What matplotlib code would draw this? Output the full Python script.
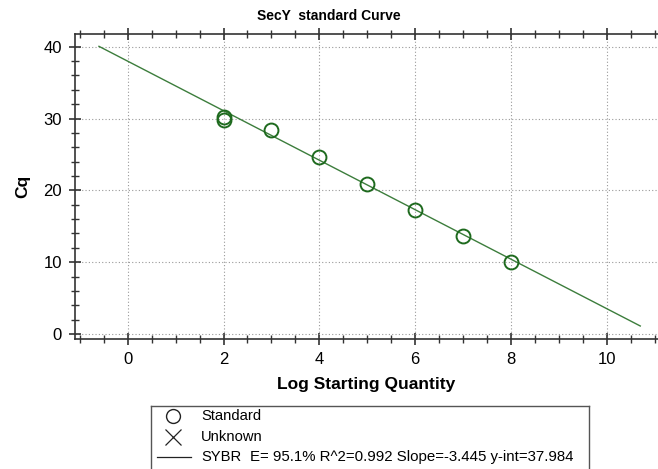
import matplotlib.pyplot as plt
from matplotlib.ticker import MultipleLocator
import numpy as np

plt.rcParams['font.family'] = ['Liberation Sans', 'DejaVu Sans']

# standard points (log starting quantity, Cq)
log_qty = [2, 2, 3, 4, 5, 6, 7, 8]
cq = [29.8, 30.2, 28.4, 24.6, 20.9, 17.3, 13.6, 10.1]

# fit reported by the instrument
slope = -3.445
y_int = 37.984
fit_x = [-0.6, 10.7]
fit_label = "E= 95.1% R^2=0.992 Slope=-3.445 y-int=37.984"

fig = plt.figure(figsize=(6.58, 4.69), dpi=100)
ax = fig.add_axes([0.114, 0.277, 0.886, 0.651])

fx = np.array(fit_x)
ax.plot(fx, slope * fx + y_int, color='#3c7d3c', lw=1.0)
ax.plot(log_qty, cq, 'o', mfc='none', mec='#1e6a1e', mew=1.4, ms=10)

ax.set_xlim(-1.1, 11.07)
ax.set_ylim(-0.7, 41.8)
ax.xaxis.set_major_locator(MultipleLocator(2))
ax.xaxis.set_minor_locator(MultipleLocator(0.5))
ax.yaxis.set_major_locator(MultipleLocator(10))
ax.yaxis.set_minor_locator(MultipleLocator(2))

ax.grid(True, which='major', color='#999999', ls=(0, (1, 2)), lw=0.8)
ax.spines['right'].set_visible(False)
for s in ['left', 'bottom', 'top']:
    ax.spines[s].set_color('#333333')
    ax.spines[s].set_linewidth(1.2)

ax.tick_params(which='major', direction='inout', length=9, width=1.2,
               labelsize=12, color='#333333', top=True, pad=5)
ax.tick_params(which='minor', direction='inout', length=6, width=1.0,
               color='#333333', top=True)
ax.tick_params(axis='x', which='both', labeltop=False)

ax.set_xlabel('Log Starting Quantity', fontsize=12.5, fontweight='bold', labelpad=7)
ax.set_ylabel('Cq', fontsize=12.5, fontweight='bold', labelpad=9)
fig.text(0.5, 0.966, 'SecY  standard Curve', ha='center', va='center',
         fontsize=10, fontweight='bold')

# legend box
lg = fig.add_axes([151 / 658, -0.02, (589 - 151) / 658, (469 - 406) / 469 + 0.02])
lg.set_xlim(151, 589)
lg.set_ylim(478, 406)
lg.set_xticks([])
lg.set_yticks([])
for s in lg.spines.values():
    s.set_color('#555555')
    s.set_linewidth(1.0)
lg.plot([173], [416], 'o', mfc='none', mec='#222222', mew=1.0, ms=10)
lg.plot([173], [437], 'x', color='#222222', mew=0.9, ms=11)
lg.plot([157, 191], [457, 457], color='#222222', lw=0.9)
lg.text(201, 416, 'Standard', va='center', fontsize=10.6)
lg.text(201, 437, 'Unknown', va='center', fontsize=10.6)
lg.text(201, 457, 'SYBR', va='center', fontsize=10.6)
lg.text(250, 457, fit_label, va='center', fontsize=10.8)

fig.savefig('out.png', dpi=100)
